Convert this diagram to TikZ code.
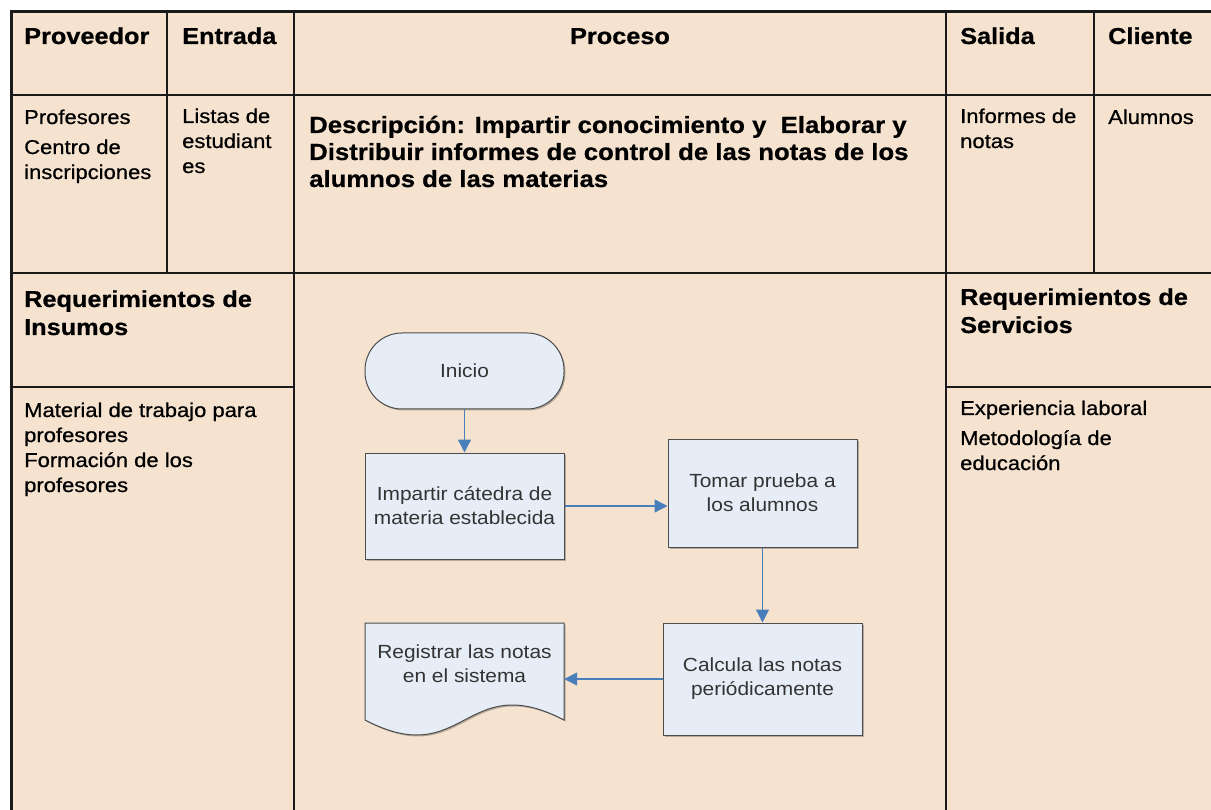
\documentclass[tikz,border=0pt]{standalone}
\usepackage{fontspec}
\setmainfont{Liberation Sans}[FakeStretch=1.1]
\newfontfamily\tabfont{Liberation Sans}[FakeStretch=1.1, FakeBold=0.7]
\usetikzlibrary{arrows.meta,shadows}
\definecolor{bgpeach}{HTML}{F5E3D0}
\definecolor{flowfill}{HTML}{E6EDF7}
\definecolor{arrowblue}{HTML}{4A7EBB}
\definecolor{rulecol}{HTML}{1A1A1A}
\begin{document}
\begin{tikzpicture}[x=1pt,y=-1pt,
  cell/.style={anchor=base west, inner sep=0pt, align=left, font=\tabfont\fontsize{20}{25}\selectfont, text=black},
  hdr/.style={anchor=base west, inner sep=0pt, align=left, font=\tabfont\fontsize{23}{28}\selectfont\bfseries, text=black},
  rule/.style={draw=rulecol, line width=1.6pt},
  frame/.style={draw=rulecol, line width=3pt},
  proc/.style={draw=black!70, fill=flowfill, line width=1pt, align=center,
    font=\fontsize{19}{24}\selectfont, text=black!80,
    drop shadow={shadow xshift=1.5pt, shadow yshift=-1.5pt, fill=black, opacity=0.25}},
  flow/.style={draw=arrowblue, line width=1.3pt, -{Triangle[length=13pt,width=13pt]}, fill=arrowblue}
]
\useasboundingbox (0,0) rectangle (1211,810);
% background
\fill[bgpeach] (10,12) rectangle (1211,810);
% grid lines
\draw[rule] (10,95) -- (1211,95);
\draw[rule] (10,273) -- (1211,273);
\draw[rule] (167,12) -- (167,273);
\draw[rule] (294,12) -- (294,810);
\draw[rule] (946,12) -- (946,810);
\draw[rule] (1094,12) -- (1094,273);
\draw[rule] (10,387) -- (294,387);
\draw[rule] (946,387) -- (1211,387);
% outer frame
\draw[frame] (1211,12) -- (11,12) -- (11,810);

% headers
\node[hdr] (hprov) at (24,44) {Proveedor};
\node[hdr] (hent) at (182,44) {Entrada};
\node[hdr, anchor=base] (hproc) at (620,44) {Proceso};
\node[hdr] (hsal) at (960,44) {Salida};
\node[hdr] (hcli) at (1108,44) {Cliente};

% second row (base anchor = baseline of last line)
\node[cell] (prov) at (24,179) {Profesores\\[5pt]Centro de\\inscripciones};
\node[cell] (ent) at (182,173) {Listas de\\estudiant\\es};
\node[hdr, font=\tabfont\fontsize{23.4}{27}\selectfont\bfseries] (desc) at (309,187)
  {Descripción: Impartir conocimiento y\ \ Elaborar y\\Distribuir informes de control de las notas de los\\alumnos de las materias};
\node[cell] (sal) at (960,148) {Informes de\\notas};
\node[cell] (cli) at (1108,124) {Alumnos};

% lower section
\node[hdr] (rins) at (24,335) {Requerimientos de\\Insumos};
\node[cell] (ins) at (24,492) {Material de trabajo para\\profesores\\Formación de los\\profesores};
\node[hdr] (rser) at (960,333) {Requerimientos de\\Servicios};
\node[cell] (ser) at (960,470) {Experiencia laboral\\[5pt]Metodología de\\educación};

% flowchart
\node[proc, rounded corners=37pt, minimum width=199pt, minimum height=76pt] (ini) at (464.5,371) {Inicio};
\node[proc, minimum width=199pt, minimum height=106pt] (imp) at (464.5,506) {Impartir cátedra de\\materia establecida};
\node[proc, minimum width=189pt, minimum height=108pt] (tom) at (762.5,493) {Tomar prueba a\\los alumnos};
\node[proc, minimum width=199pt, minimum height=112pt] (cal) at (762.5,679) {Calcula las notas\\periódicamente};
\draw[draw=black!70, fill=flowfill, line width=1pt,
  drop shadow={shadow xshift=1.5pt, shadow yshift=-1.5pt, fill=black, opacity=0.25}]
  (365,623) -- (564,623) -- (564,720) .. controls (464.5,668) and (464.5,772) .. (365,720) -- cycle;
\node[align=center, font=\fontsize{19}{24}\selectfont, text=black!80, minimum width=199pt, inner sep=0pt] (reg) at (464.5,664) {Registrar las notas\\en el sistema};

\draw[flow] (ini) -- (imp);
\draw[flow] (imp.east) -- (imp.east -| tom.west);
\draw[flow] (tom) -- (cal);
\draw[flow] (cal.west) -- (cal.west -| reg.east);
\end{tikzpicture}
\end{document}
